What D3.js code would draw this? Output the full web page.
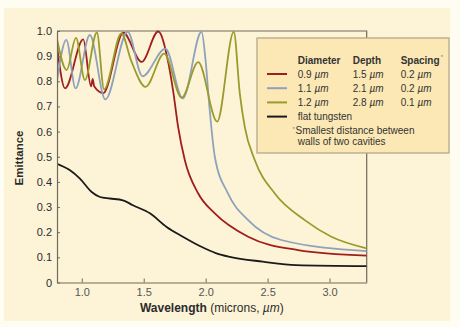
<!DOCTYPE html>
<html>
<head>
<meta charset="utf-8">
<script src="https://cdn.jsdelivr.net/npm/d3@7"></script>
<style>
  body { margin: 0; background: #fffcf2; }
  svg { display: block; font-family: "Liberation Sans", Arial, sans-serif; }
</style>
</head>
<body>
<svg id="chart" width="460" height="327"></svg>
<script>
// emittance curves, [wavelength (µm), emittance]
var red = [
  [0.80, 0.94], [0.865, 0.772], [1.012, 0.967], [1.075, 0.78], [1.088, 0.81],
  [1.10, 0.78], [1.173, 0.753], [1.335, 0.993], [1.483, 0.877], [1.617, 0.998],
  [1.70, 0.87], [1.738, 0.76], [1.778, 0.618], [1.832, 0.486], [1.94, 0.354],
  [2.074, 0.275], [2.343, 0.182], [2.746, 0.129], [3.30, 0.107]
];
var blue = [
  [0.80, 0.80], [0.875, 0.965], [0.95, 0.772], [1.065, 0.984], [1.19, 0.728],
  [1.37, 0.997], [1.49, 0.82], [1.675, 0.93], [1.815, 0.732], [1.967, 0.997],
  [2.00, 0.88], [2.03, 0.70], [2.074, 0.50], [2.18, 0.354], [2.343, 0.248],
  [2.61, 0.169], [3.30, 0.125]
];
var green = [
  [0.80, 0.967], [0.878, 0.845], [0.953, 0.973], [1.025, 0.805], [1.122, 0.994],
  [1.18, 0.768], [1.32, 0.99], [1.40, 0.88], [1.515, 0.778], [1.665, 0.91],
  [1.806, 0.735], [1.94, 0.876], [2.093, 0.64], [2.227, 0.997], [2.276, 0.75],
  [2.316, 0.618], [2.397, 0.486], [2.558, 0.354], [2.80, 0.248], [3.015, 0.182],
  [3.30, 0.136]
];
var flat = [
  [0.80, 0.472], [0.905, 0.446], [0.985, 0.413], [1.08, 0.36], [1.147, 0.34],
  [1.227, 0.334], [1.332, 0.327], [1.413, 0.307], [1.55, 0.275], [1.685, 0.221],
  [1.816, 0.182], [1.953, 0.145], [2.087, 0.116], [2.195, 0.102], [2.46, 0.083],
  [2.73, 0.069], [3.30, 0.065]
];

var xTicks = [1.0, 1.5, 2.0, 2.5, 3.0];
var yTicks = [0, 0.1, 0.2, 0.3, 0.4, 0.5, 0.6, 0.7, 0.8, 0.9, 1.0];

var legendCols = ["Diameter", "Depth", "Spacing"];
var legendRows = [
  { color: "#a01e1e", cells: ["0.9", "1.5", "0.2"] },
  { color: "#8ea2bb", cells: ["1.1", "2.1", "0.2"] },
  { color: "#9a9b2c", cells: ["1.2", "2.8", "0.1"] },
  { color: "#1a1a1a", cells: ["flat tungsten"] }
];
var footnote = ["Smallest distance between", "walls of two cavities"];

var series = [
  { data: red, color: "#a01e1e" },
  { data: blue, color: "#8ea2bb" },
  { data: green, color: "#9a9b2c" },
  { data: flat, color: "#1a1a1a" }
];

var margin = { left: 57, top: 31, right: 93.3, bottom: 44.5 };
var W = 460, H = 327;

var svg = d3.select("#chart");

// cream panel
svg.append("rect")
  .attr("x", 4).attr("y", 8)
  .attr("width", 446).attr("height", 313)
  .attr("fill", "#fdf4d7");

var x = d3.scaleLinear().domain([0.8, 3.3]).range([margin.left, W - margin.right]);
var y = d3.scaleLinear().domain([0, 1]).range([H - margin.bottom, margin.top]);

// frame on top and right
svg.append("path")
  .attr("d", `M${x(0.8)},${y(1)}H${x(3.3)}V${y(0)}`)
  .attr("fill", "none")
  .attr("stroke", "#6e6a5c")
  .attr("stroke-width", 1.2);

var line = d3.line()
  .x(d => x(d[0]))
  .y(d => y(d[1]))
  .curve(d3.curveMonotoneX);

svg.append("clipPath").attr("id", "plotclip")
  .append("rect")
  .attr("x", x(0.8)).attr("y", y(1) - 2)
  .attr("width", x(3.3) - x(0.8)).attr("height", y(0) - y(1) + 2);

svg.append("g")
  .attr("clip-path", "url(#plotclip)")
  .selectAll("path")
  .data(series)
  .join("path")
  .attr("d", d => line(d.data))
  .attr("fill", "none")
  .attr("stroke", d => d.color)
  .attr("stroke-width", 1.8)
  .attr("stroke-linejoin", "round");

// axes
var xAxis = svg.append("g")
  .attr("transform", `translate(0,${y(0)})`)
  .call(d3.axisBottom(x).tickValues(xTicks).tickSizeInner(-4).tickSizeOuter(0)
    .tickPadding(5.5).tickFormat(d3.format(".1f")));
xAxis.select(".domain").attr("stroke", "#6e6a5c").attr("stroke-width", 1.2);
xAxis.selectAll(".tick line").attr("stroke", "#6e6a5c");
xAxis.selectAll("text").attr("fill", "#555").attr("font-size", 11).attr("font-family", null);

var yAxis = svg.append("g")
  .attr("transform", `translate(${x(0.8)},0)`)
  .call(d3.axisLeft(y).tickValues(yTicks).tickSizeInner(-3).tickSizeOuter(0)
    .tickPadding(5).tickFormat(d => d === 0 ? "0" : d.toFixed(1)));
yAxis.select(".domain").attr("stroke", "#6e6a5c").attr("stroke-width", 1.2);
yAxis.selectAll(".tick line").attr("stroke", "#6e6a5c");
yAxis.selectAll("text").attr("fill", "#2b2b2b").attr("font-size", 11).attr("font-family", null);

// axis titles
var xt = svg.append("text")
  .attr("x", (x(0.8) + x(3.3)) / 2)
  .attr("y", 312)
  .attr("text-anchor", "middle")
  .attr("font-size", 12)
  .attr("fill", "#2b2b2b");
xt.append("tspan").attr("font-weight", "bold").text("Wavelength");
xt.append("tspan").text(" (microns, ");
xt.append("tspan").attr("font-style", "italic").text("µm");
xt.append("tspan").text(")");

svg.append("text")
  .attr("transform", "translate(23,158) rotate(-90)")
  .attr("text-anchor", "middle")
  .attr("font-size", 11.5)
  .attr("font-weight", "bold")
  .attr("fill", "#2b2b2b")
  .text("Emittance");

// legend box
var lg = svg.append("g");
lg.append("rect")
  .attr("x", 257).attr("y", 38)
  .attr("width", 192).attr("height", 115)
  .attr("fill", "#fbe8b4")
  .attr("stroke", "#b5aa8a")
  .attr("stroke-width", 1.3);

var colX = [297.7, 352.7, 400.7];
var hdr = lg.append("g");
legendCols.forEach(function (c, i) {
  hdr.append("text")
    .attr("x", colX[i]).attr("y", 63.5)
    .attr("font-size", 10).attr("font-weight", "bold").attr("fill", "#333")
    .text(c);
});
hdr.append("text")
  .attr("x", colX[2] + 40).attr("y", 59)
  .attr("font-size", 6).attr("fill", "#777").text("*");

legendRows.forEach(function (r, j) {
  var cy = 74 + j * 14.2;
  lg.append("line")
    .attr("x1", 267).attr("x2", 287)
    .attr("y1", cy).attr("y2", cy)
    .attr("stroke", r.color).attr("stroke-width", 2);
  r.cells.forEach(function (c, i) {
    var t = lg.append("text")
      .attr("x", colX[i]).attr("y", cy + 3.5)
      .attr("font-size", 10).attr("fill", "#333");
    if (r.cells.length > 1) {
      t.append("tspan").text(c + " ");
      t.append("tspan").attr("font-style", "italic").text("µm");
    } else {
      t.text(c);
    }
  });
});

lg.append("text")
  .attr("x", 292.5).attr("y", 131)
  .attr("font-size", 6).attr("fill", "#777").text("*");
footnote.forEach(function (f, i) {
  lg.append("text")
    .attr("x", i === 0 ? 295.5 : 297.7).attr("y", 133.5 + i * 11.5)
    .attr("font-size", 10).attr("fill", "#333")
    .text(f);
});
</script>
</body>
</html>
